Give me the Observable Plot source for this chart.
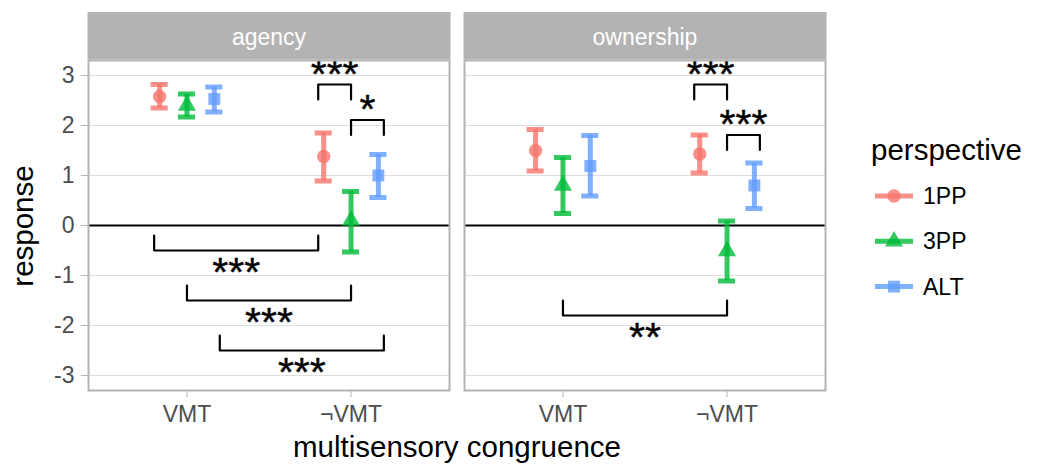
<!DOCTYPE html>
<html><head><meta charset="utf-8">
<script src="https://cdn.jsdelivr.net/npm/d3@7"></script>
<script src="https://cdn.jsdelivr.net/npm/@observablehq/plot@0.6"></script>
<style>
body{margin:0;background:#fff;}
#chart{position:relative;width:1038px;height:464px;font-family:"Liberation Sans",Arial,sans-serif;}
</style></head><body><div id="chart"></div>
<script>
// ---- data ----
const panels = ["agency", "ownership"];
const congruence = ["VMT", "¬VMT"];
const perspectives = ["1PP", "3PP", "ALT"];
const colors = ["#F8766D", "#00BA38", "#619CFF"];
const symbols = ["circle", "triangle", "square"];
const yTicks = [-3, -2, -1, 0, 1, 2, 3];

// order: VMT(1PP,3PP,ALT), ¬VMT(1PP,3PP,ALT)
const agencyMean = [2.58, 2.40, 2.53, 1.38, 0.10, 1.00];
const agencyLow  = [2.35, 2.17, 2.27, 0.89, -0.53, 0.56];
const agencyHigh = [2.82, 2.63, 2.77, 1.85, 0.68, 1.42];
const ownershipMean = [1.50, 0.80, 1.19, 1.43, -0.51, 0.80];
const ownershipLow  = [1.09, 0.24, 0.59, 1.05, -1.11, 0.34];
const ownershipHigh = [1.92, 1.36, 1.80, 1.81, 0.09, 1.25];

// significance brackets
const sigPanel = ["agency", "agency", "agency", "agency", "agency", "ownership", "ownership", "ownership"];
const sigXmin  = [1.8, 2.0, 0.8, 1.0, 1.2, 1.8, 2.0, 1.0];
const sigXmax  = [2.0, 2.2, 1.8, 2.0, 2.2, 2.0, 2.2, 2.0];
const sigY     = [2.82, 2.11, -0.5, -1.5, -2.5, 2.82, 1.81, -1.8];
const sigTip   = [-0.3, -0.3, 0.3, 0.3, 0.3, -0.3, -0.3, 0.3];
const sigLabel = ["***", "*", "***", "***", "***", "***", "***", "**"];

// ---- derived tables ----
const dodge = 1 / 6;
const capHalf = 0.052;
const rows = [];
panels.forEach((p, pi) => {
  const m = pi === 0 ? agencyMean : ownershipMean;
  const lo = pi === 0 ? agencyLow : ownershipLow;
  const hi = pi === 0 ? agencyHigh : ownershipHigh;
  congruence.forEach((c, ci) => perspectives.forEach((g, gi) => {
    const k = ci * 3 + gi;
    rows.push({panel: p, congruence: c, perspective: g, x: ci + 1 + (gi - 1) * dodge, mean: m[k], low: lo[k], high: hi[k]});
  }));
});
const bracketPts = [];
const sigText = [];
sigLabel.forEach((lab, i) => {
  const tipY = sigY[i] + sigTip[i];
  const p = sigPanel[i];
  bracketPts.push({id: i, panel: p, x: sigXmin[i], y: tipY});
  bracketPts.push({id: i, panel: p, x: sigXmin[i], y: sigY[i]});
  bracketPts.push({id: i, panel: p, x: sigXmax[i], y: sigY[i]});
  bracketPts.push({id: i, panel: p, x: sigXmax[i], y: tipY});
  sigText.push({panel: p, x: (sigXmin[i] + sigXmax[i]) / 2, y: sigY[i] - Math.sign(sigTip[i]) * 0.32, label: lab});
});

const FONT = "Liberation Sans, Arial, sans-serif";
const plot = Plot.plot({
  width: 1038, height: 464,
  marginLeft: 88, marginRight: 213, marginTop: 60, marginBottom: 74,
  style: {fontFamily: FONT, background: "white", overflow: "visible"},
  fx: {domain: panels, paddingInner: 15 / 376, paddingOuter: 0, axis: null, label: null},
  x: {domain: [0.4, 2.6]},
  y: {domain: [-3.3, 3.3]},
  color: {domain: perspectives, range: colors},
  symbol: {domain: perspectives, range: symbols},
  marks: [
    Plot.gridY(yTicks, {stroke: "#DEDEDE", strokeOpacity: 1, strokeWidth: 1.1}),
    Plot.ruleY([0], {stroke: "black", strokeWidth: 2.2}),
    Plot.ruleX(rows, {fx: "panel", x: "x", y1: "low", y2: "high", stroke: "perspective", strokeWidth: 5, strokeOpacity: 0.8}),
    Plot.ruleY(rows, {fx: "panel", y: "high", x1: d => d.x - capHalf, x2: d => d.x + capHalf, stroke: "perspective", strokeWidth: 5, strokeOpacity: 0.8}),
    Plot.ruleY(rows, {fx: "panel", y: "low", x1: d => d.x - capHalf, x2: d => d.x + capHalf, stroke: "perspective", strokeWidth: 5, strokeOpacity: 0.8}),
    Plot.dot(rows, {fx: "panel", x: "x", y: "mean", fill: "perspective", symbol: "perspective", r: 6.7, fillOpacity: 0.8}),
    Plot.line(bracketPts, {fx: "panel", x: "x", y: "y", z: "id", stroke: "black", strokeWidth: 2.2, curve: "linear"}),
    Plot.text(sigText, {fx: "panel", x: "x", y: "y", text: "label", fontSize: 41, dy: 6, fill: "black", stroke: "black", strokeWidth: 0.4, fontFamily: FONT}),
    Plot.frame({stroke: "#B3B3B3", strokeWidth: 2}),
    Plot.axisY({ticks: yTicks, tickFormat: d => (d < 0 ? "-" + Math.abs(d) : String(d)), tickSize: 7, tickPadding: 7, stroke: "#B3B3B3", fill: "#4D4D4D", fontSize: 23, label: null}),
    Plot.axisX({ticks: [1, 2], tickFormat: d => congruence[Math.round(d) - 1], tickSize: 7, tickPadding: 8, stroke: "#B3B3B3", fill: "#4D4D4D", fontSize: 23, label: null})
  ]
});
document.getElementById("chart").appendChild(plot);

// ---- strips, titles, legend ----
const svg = d3.select(plot);
const svgBox = plot.getBoundingClientRect();
const frames = Array.from(plot.querySelectorAll('g[aria-label="frame"] rect'));
const boxes = frames.map(r => {
  const b = r.getBoundingClientRect();
  return {left: b.left - svgBox.left, right: b.right - svgBox.left, top: b.top - svgBox.top};
});
const deco = svg.append("g").attr("font-family", FONT);
boxes.forEach((b, i) => {
  deco.append("rect").attr("x", b.left - 1).attr("y", 12).attr("width", b.right - b.left + 2).attr("height", b.top - 12 - 1).attr("fill", "#B3B3B3");
  deco.append("text").attr("x", (b.left + b.right) / 2).attr("y", 45).attr("text-anchor", "middle")
    .attr("fill", "white").attr("font-size", 23).text(panels[i]);
});
const left = d3.min(boxes, b => b.left), right = d3.max(boxes, b => b.right);
deco.append("text").attr("x", (left + right) / 2).attr("y", 457).attr("text-anchor", "middle")
  .attr("font-size", 29.5).attr("fill", "black").text("multisensory congruence");
deco.append("text").attr("transform", `translate(33,226) rotate(-90)`).attr("text-anchor", "middle")
  .attr("font-size", 29.5).attr("fill", "black").text("response");

const leg = deco.append("g").attr("text-anchor", "start");
leg.append("text").attr("x", 871).attr("y", 160).attr("text-anchor", "start").attr("font-size", 29.5).attr("fill", "black").text("perspective");
const symMap = {circle: d3.symbolCircle, triangle: d3.symbolTriangle, square: d3.symbolSquare};
perspectives.forEach((p, i) => {
  const cy = 196 + i * 45.3;
  const g = leg.append("g");
  g.append("line").attr("x1", 875).attr("x2", 913).attr("y1", cy).attr("y2", cy)
    .attr("stroke", colors[i]).attr("stroke-width", 5).attr("stroke-opacity", 0.8);
  g.append("path").attr("transform", `translate(894,${cy})`)
    .attr("d", d3.symbol(symMap[symbols[i]], Math.PI * 6.7 * 6.7)())
    .attr("fill", colors[i]).attr("fill-opacity", 0.8);
  g.append("text").attr("x", 923).attr("y", cy + 8).attr("text-anchor", "start").attr("font-size", 23).attr("fill", "black").text(p);
});
</script></body></html>
